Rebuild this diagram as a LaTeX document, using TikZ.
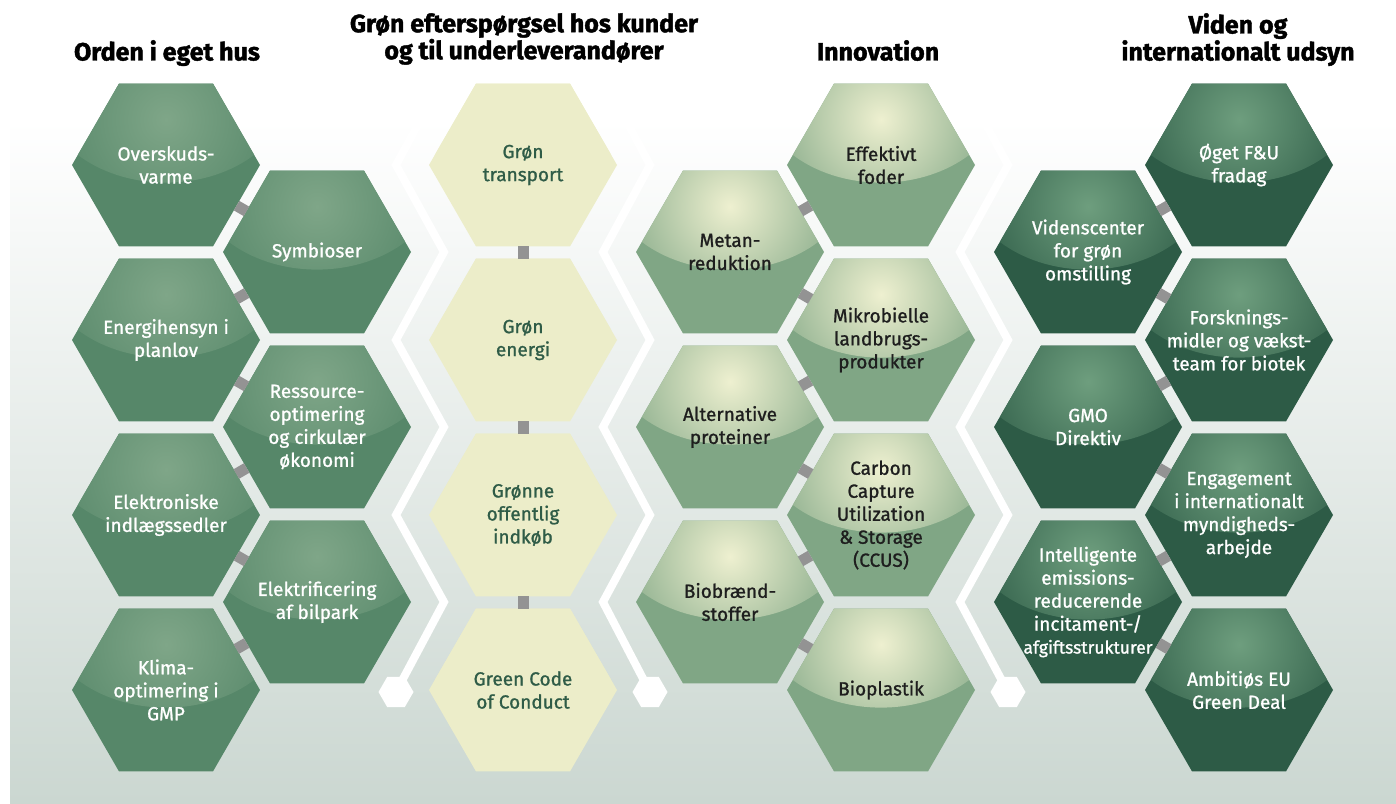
\documentclass[tikz,border=0pt]{standalone}
\usepackage{fontspec}
\setmainfont{Fira Sans}[UprightFeatures={FakeBold=1.1}]
\newfontfamily\headfont{Fira Sans}[BoldFeatures={FakeBold=1.6}]
\usetikzlibrary{shapes.geometric}

\definecolor{bgbund}{HTML}{CBD7D1}
\definecolor{orden}{HTML}{568769}
\definecolor{ordenlys}{HTML}{7FA688}
\definecolor{gul}{HTML}{ECEDC9}
\definecolor{innov}{HTML}{80A685}
\definecolor{innovlys}{HTML}{EEF0D0}
\definecolor{viden}{HTML}{2D5B46}
\definecolor{videnlys}{HTML}{6E9E7E}
\definecolor{moerk}{HTML}{2F5C47}
\definecolor{sort}{HTML}{1E1E1E}
\definecolor{ledgraa}{HTML}{939393}

\tikzset{
	hex/.style 2 args={regular polygon, regular polygon sides=6, minimum size=188pt,
		inner sep=0pt, outer sep=0pt, fill=#1,
		path picture={\shade[inner color=#2, outer color=#1] ([yshift=-4pt]path picture bounding box.north) ellipse (125pt and 95pt);}},
	tekst/.style={align=center, font=\fontsize{19}{23}\selectfont, text=#1},
	titel/.style={align=center, anchor=north, inner sep=0pt, font=\headfont\bfseries\fontsize{25}{27}\selectfont},
	forbind/.style={draw=ledgraa, line width=11pt},
	zigzag/.style={draw=white, line width=8pt, line join=miter},
	prik/.style={regular polygon, regular polygon sides=6, minimum size=35pt, inner sep=0pt, fill=white}
}

% navn, sted, farve, lys, tekstfarve, tekst
\newcommand{\hexa}[6]{
	\node[hex={#3}{#4}] (#1) at (#2) {};
	\node[tekst=#5] (#1t) at (#1) {#6};
}

\begin{document}
\begin{tikzpicture}[x=1pt,y=-1pt]
	\useasboundingbox (0,0) rectangle (1396,803);
	\shade[top color=white, bottom color=bgbund] (10,120) rectangle (1396,803);

	\node[titel] (t1) at (167,40) {Orden i eget hus};
	\node[titel] (t2) at (524,13) {Grøn efterspørgsel hos kunder\\og til underleverandører};
	\node[titel] (t3) at (878,40) {Innovation};
	\node[titel] (t4) at (1238,13) {Viden og\\internationalt udsyn};

	\node[prik] (p1) at (396,692) {};
	\node[prik] (p2) at (650,692) {};
	\node[prik] (p3) at (1008,692) {};
	\draw[zigzag] (444,77) -- (396,165) -- (444,252) -- (396,340) -- (444,427) -- (396,515) -- (444,602) -- (p1.center);
	\draw[zigzag] (603,77) -- (650,165) -- (603,252) -- (650,340) -- (603,427) -- (650,515) -- (603,602) -- (p2.center);
	\draw[zigzag] (960,77) -- (1008,165) -- (960,252) -- (1008,340) -- (960,427) -- (1008,515) -- (960,602) -- (p3.center);

	\hexa{a1}{166,165}{orden}{ordenlys}{white}{Overskuds-\\varme}
	\hexa{a2}{166,340}{orden}{ordenlys}{white}{Energihensyn i\\planlov}
	\hexa{a3}{166,515}{orden}{ordenlys}{white}{Elektroniske\\indlægssedler}
	\hexa{a4}{166,690}{orden}{ordenlys}{white}{Klima-\\optimering i\\GMP}
	\hexa{b1}{317,252}{orden}{ordenlys}{white}{Symbioser}
	\hexa{b2}{317,427}{orden}{ordenlys}{white}{Ressource-\\optimering\\og cirkulær\\økonomi}
	\hexa{b3}{317,602}{orden}{ordenlys}{white}{Elektrificering\\af bilpark}

	\hexa{g1}{523,165}{gul}{gul}{moerk}{Grøn\\transport}
	\hexa{g2}{523,340}{gul}{gul}{moerk}{Grøn\\energi}
	\hexa{g3}{523,515}{gul}{gul}{moerk}{Grønne\\offentlig\\indkøb}
	\hexa{g4}{523,690}{gul}{gul}{moerk}{Green Code\\of Conduct}

	\hexa{c1}{730,252}{innov}{innovlys}{sort}{Metan-\\reduktion}
	\hexa{c2}{730,427}{innov}{innovlys}{sort}{Alternative\\proteiner}
	\hexa{c3}{730,602}{innov}{innovlys}{sort}{Biobrænd-\\stoffer}
	\hexa{d1}{881,165}{innov}{innovlys}{sort}{Effektivt\\foder}
	\hexa{d2}{881,340}{innov}{innovlys}{sort}{Mikrobielle\\landbrugs-\\produkter}
	\hexa{d3}{881,515}{innov}{innovlys}{sort}{Carbon\\Capture\\Utilization\\\& Storage\\(CCUS)}
	\hexa{d4}{881,690}{innov}{innovlys}{sort}{Bioplastik}

	\hexa{e1}{1088,252}{viden}{videnlys}{white}{Videnscenter\\for grøn\\omstilling}
	\hexa{e2}{1088,427}{viden}{videnlys}{white}{GMO\\Direktiv}
	\hexa{e3}{1088,602}{viden}{videnlys}{white}{Intelligente\\emissions-\\reducerende\\incitament-/\\{\fontsize{17.5}{23}\selectfont afgiftsstrukturer}}
	\hexa{f1}{1239,165}{viden}{videnlys}{white}{Øget F\&U\\fradag}
	\hexa{f2}{1239,340}{viden}{videnlys}{white}{Forsknings-\\midler og vækst-\\team for biotek}
	\hexa{f3}{1239,515}{viden}{videnlys}{white}{Engagement\\i internationalt\\myndigheds-\\arbejde}
	\hexa{f4}{1239,690}{viden}{videnlys}{white}{Ambitiøs EU\\Green Deal}

	\foreach \fra/\til in {a1/b1,b1/a2,a2/b2,b2/a3,a3/b3,b3/a4,g1/g2,g2/g3,g3/g4,
		d1/c1,c1/d2,d2/c2,c2/d3,d3/c3,c3/d4,f1/e1,e1/f2,f2/e2,e2/f3,f3/e3,e3/f4}
		\draw[forbind] (\fra) -- (\til);
\end{tikzpicture}
\end{document}
